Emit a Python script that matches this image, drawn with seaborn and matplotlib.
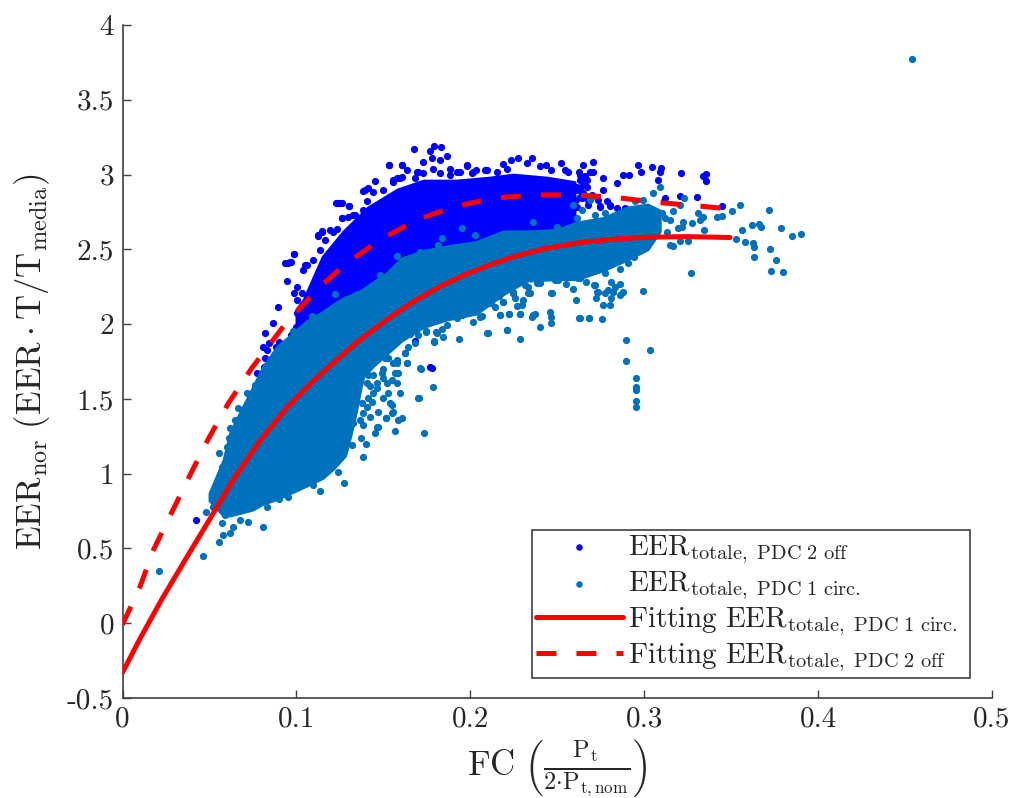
import matplotlib
matplotlib.use('Agg')
import matplotlib.pyplot as plt
import numpy as np
import pandas as pd
import seaborn as sns

## values: (FC, EER_nor)
blue_points=[(.1676,3.17),(.1793,3.19),(.183,3.183),(.1768,3.16),(.173,3.087),(.1778,3.11),(.1864,3.125),(.1826,3.098),
(.1532,3.065),(.1605,3.065),(.1634,3.03),(.1701,3.02),(.1452,2.96),(.1557,2.964),(.1596,2.975),(.1394,2.897),
(.1251,2.813),(.1304,2.79),(.1225,2.81),(.1126,2.597),(.1145,2.619),(.1212,2.619),(.126,2.708),(.1327,2.73),
(.1385,2.764),(.1404,2.82),(.0986,2.469),(.0953,2.41),(.0969,2.418),(.0944,2.289),(.105,2.396),(.104,2.362),
(.1001,2.251),(.0986,2.206),(.103,2.211),(.1001,2.162),(.0896,2.117),(.1001,2.077),(.0863,2.01),(.0998,1.983),
(.082,1.939),(.0842,1.876),(.081,1.849),(.0833,1.827),(.09,1.879),(.082,1.771),(.1979,3.065),(.2085,3.03),
(.1922,3.02),(.2017,3.02),(.1883,3.036),(.2273,3.109),(.2353,3.109),(.2232,3.094),(.219,3.069),(.2324,3.08),
(.2434,3.065),(.2401,3.054),(.2522,3.076),(.265,3.065),(.2708,3.087),(.2708,3.02),(.2689,3.014),(.2564,3.02),
(.2627,3.014),(.267,2.964),(.2761,2.976),(.2846,2.942),(.288,2.994),(.2913,2.994),(.2967,3.065),(.298,3.016),
(.3047,3.049),(.3097,3.047),(.3091,3.014),(.3078,2.964),(.3212,3.009),(.3356,3.005),(.334,2.987),(.3354,2.96),
(.3306,2.853),(.3206,2.857),(.312,2.842),(.3114,2.82),(.2761,2.898),(.2698,2.864),(.265,2.875),(.264,2.842),
(.2679,2.831),(.2746,2.786),(.2804,2.797),(.2842,2.775),(.289,2.77),(.2737,2.83),(.2785,2.82),(.2631,2.964),
(.2612,2.92),(.267,2.92),(.2574,2.786),(.2516,2.764),(.2459,2.742),(.3446,2.79),(.0423,.691),(.0772,1.676),
(.0816,1.712),(.177,1.71),(.0935,2.411),(.0964,2.418),(.0987,2.469),(.106,2.396),(.1098,2.429),(.1136,2.496),
(.1126,2.592),(.1146,2.625),(.1194,2.63),(.1232,2.634),(.1165,2.563),(.1261,2.708),(.1299,2.715),(.1337,2.73),
(.1241,2.813),(.1261,2.808),(.1305,2.79),(.1385,2.893),(.141,2.909),(.1443,2.886),(.15,2.897),(.1558,2.953),
(.1577,2.976),(.1606,2.982),(.1535,3.065),(.1606,3.065),(.1692,3.02),(.1682,2.976),(.173,3.009),(.1784,3.036),
(.1826,3.009),(.1884,2.998),(.1941,3.02),(.198,3.058),(.2008,3.009),(.2095,3.031),(.2152,3.02),(.1021,2.1),
(.1021,2.0),(.097,1.93),(.092,1.87),(.088,1.85),(.265,2.865),(.2692,2.853),(.2679,2.798),(.2746,2.787),
(.2804,2.787),(.289,2.775),(.165,1.935),(.1682,1.884),(.1778,1.705),(.263,3.0),(.266,2.99),(.262,2.9),(.258,2.85),
(.2631,2.9),(.2612,2.78),(.2631,2.85),(.265,2.93),(.2608,2.83),(.2464,3.03),(.2542,3.03),(.2212,3.04),(.2033,3.03)]

teal_points=[(.3553,2.797),(.3718,2.762),(.3503,2.753),(.3446,2.726),(.3417,2.719),(.3618,2.663),(.3662,2.67),(.3672,2.652),
(.3565,2.626),(.3787,2.641),(.3848,2.592),(.3902,2.603),(.3526,2.57),(.358,2.552),(.3624,2.541),(.3634,2.514),
(.3724,2.501),(.3634,2.452),(.3758,2.429),(.3728,2.358),(.3797,2.347),(.3269,2.34),(.2995,2.224),(.2894,1.894),
(.3034,1.827),(.2896,1.756),(.2953,1.638),(.2953,1.582),(.2953,1.56),(.2953,1.486),(.2953,1.444),(.2756,2.032),
(.2683,2.043),(.2627,2.043),(.2464,2.01),(.2459,2.084),(.2462,2.05),(.2401,1.983),(.2372,2.066),(.2353,2.05),
(.2286,1.899),(.2286,2.068),(.2225,2.066),(.2213,1.961),(.2104,1.939),(.2171,2.061),(.2142,2.117),(.219,2.15),
(.2296,2.128),(.2248,2.206),(.2334,2.206),(.2315,2.262),(.2464,2.211),(.2551,2.266),(.2593,2.233),(.2608,2.162),
(.2666,2.284),(.2717,2.262),(.2727,2.217),(.2721,2.173),(.2765,2.128),(.2804,2.128),(.2807,2.173),(.2775,2.206),
(.2809,2.284),(.2861,2.266),(.288,2.217),(.2861,2.195),(.2794,2.229),(.2823,2.217),(.2942,2.452),(.2905,2.407),
(.288,2.474),(.2861,2.367),(.2775,2.34),(.2731,2.362),(.2804,2.407),(.2785,2.474),(.2622,2.307),(.2554,2.362),
(.2487,2.295),(.242,2.34),(.2382,2.273),(.2344,2.318),(.2257,2.295),(.2689,2.429),(.2631,2.385),(.2832,2.518),
(.2963,2.547),(.3149,2.53),(.3164,2.523),(.3206,2.556),(.3254,2.556),(.3129,2.619),(.3197,2.641),(.3225,2.686),
(.3273,2.675),(.3312,2.741),(.334,2.715),(.3344,2.63),(.3321,2.697),(.3216,2.652),(.3149,2.697),(.3168,2.753),
(.3206,2.797),(.323,2.842),(.312,2.708),(.31,2.742),(.3053,2.875),(.3091,2.915),(.2995,2.831),(.2689,2.831),
(.264,2.764),(.2593,2.797),(.2612,2.708),(.2497,2.652),(.2363,2.686),(.2775,2.742),(.2717,2.73),(.288,2.741),
(.2947,2.82),(.195,2.641),(.1835,2.574),(.1816,2.53),(.2027,2.597),(.1711,2.485),(.1577,2.456),(.1481,2.329),
(.1222,2.202),(.1088,2.055),(.0982,1.957),(.1979,2.073),(.2056,2.05),(.2017,2.017),(.1922,2.039),(.1864,1.994),
(.1807,1.939),(.1745,1.95),(.1845,1.916),(.1937,1.899),(.1793,1.883),(.1682,1.872),(.1653,1.934),(.1625,1.805),
(.1577,1.76),(.1634,1.738),(.151,1.771),(.1711,1.705),(.2094,1.939),(.2104,2.184),(.1635,1.739),(.1702,1.505),
(.1596,1.538),(.1577,1.605),(.15,1.505),(.1548,1.46),(.1472,1.415),(.1548,1.404),(.1516,1.375),(.1606,1.371),
(.1587,1.36),(.1568,1.288),(.1453,1.275),(.1466,1.315),(.1401,1.197),(.1385,1.11),(.137,1.237),(.1318,1.192),
(.128,1.17),(.1242,1.014),(.1274,.936),(.1136,.885),(.1098,.925),(.0954,.842),(.0902,.829),(.083,.78),
(.081,.641),(.0724,.679),(.0676,.691),(.0638,.646),(.0619,.601),(.058,.59),(.0557,.541),(.0571,.668),
(.059,.724),(.048,.746),(.0523,.78),(.0465,.452),(.0212,.349),(.0555,1.141),(.0599,1.177),(.0571,1.043),
(.0565,.98),(.0532,.902),(.0513,.858),(.0619,1.304),(.0615,1.237),(.0647,1.36),(.0667,1.438),(.0715,1.538),
(.0762,1.594),(.1734,1.27),(.454,3.774),(.1745,1.951),(.1803,1.944),(.1839,1.966),(.1791,1.884),(.2213,1.962),
(.2171,2.062),(.2224,2.066),(.2286,2.069),(.2065,2.051),(.219,2.151),(.2247,2.207),(.2113,2.14),(.1624,1.81),
(.1576,1.743),(.1714,1.699),(.1783,1.578),(.1703,1.505),(.1433,1.482),(.1404,1.449),(.1538,1.471),(.1553,1.409),
(.1515,1.371),(.1467,1.315),(.1385,1.326),(.1519,1.605),(.1461,1.605),(.1423,1.583),(.1548,1.627),(.149,1.672),
(.1567,1.672),(.2248,2.218),(.2334,2.251),(.2344,2.207),(.2305,2.162),(.2267,2.118),(.2257,2.173),(.2468,2.211),
(.2714,2.262),(.2737,2.218),(.2832,2.251),(.2506,2.296),(.2631,2.307),(.2401,2.274),(.245,2.318),(.2363,2.062),
(.2631,2.044),(.2685,2.044),(.15,1.7),(.141,1.66),(.164,1.85),(.17,1.93),(.195,2.06),(.212,2.14),(.2165,2.19),
(.1442,1.66),(.1404,1.605),(.1586,1.672),(.1528,1.538),(.1442,1.538),(.1413,1.505),(.1375,1.471),(.1385,1.404),
(.1423,1.382),(.1366,1.36),(.1327,1.337),(.1461,1.571),(.15,1.638),(.1557,1.739),(.1528,1.772)]

## solid middle of the two clouds, too dense to read dot by dot: outline as (FC, low, high)
blue_core=[(.1,1.95,2.1),(.104,2.0,2.16),(.115,2.07,2.45),(.127,2.15,2.62),(.141,2.24,2.78),(.158,2.4,2.9),(.173,2.45,2.96),
(.192,2.5,2.96),(.211,2.54,2.98),(.2246,2.58,3.0),(.244,2.6,2.98),(.26,2.66,2.95)]
teal_core=[(.05,.82,.87),(.058,.72,1.09),(.062,.72,1.28),(.075,.76,1.58),(.081,.8,1.72),(.089,.83,1.85),(.106,.92,2.02),
(.115,.97,2.08),(.121,1.03,2.13),(.128,1.12,2.18),(.131,1.25,2.19),(.134,1.4,2.21),(.1365,1.55,2.22),(.1385,1.65,2.235),
(.1442,1.72,2.28),(.1519,1.8,2.34),(.1605,1.89,2.44),(.173,1.98,2.49),(.1864,2.03,2.52),(.2036,2.07,2.55),(.219,2.2,2.62),
(.2324,2.29,2.62),(.2497,2.3,2.63),(.2612,2.3,2.68),(.2765,2.36,2.71),(.29,2.43,2.78),(.302,2.5,2.8),(.309,2.62,2.76)]

fit_circ_x=[0,.01,.0226,.0369,.0504,.0638,.0791,.0945,.1098,.1193,.1355,.1519,.167,.1826,.197,.2113,.2248,.244,.2631,.2823,.3015,.3245,.3494]
fit_circ_y=[-.33,-.105,.16,.44,.7,.96,1.22,1.44,1.62,1.72,1.885,2.028,2.148,2.251,2.33,2.396,2.45,2.507,2.545,2.568,2.581,2.585,2.579]
fit_off_x=[0,.0101,.0178,.0283,.0389,.0494,.0609,.0743,.0954,.104,.1116,.1289,.1481,.1692,.1912,.2133,.2372,.2612,.2842,.3082,.3312,.3494]
fit_off_y=[-.01,.245,.49,.74,.992,1.233,1.471,1.705,2.028,2.128,2.229,2.407,2.563,2.697,2.786,2.842,2.864,2.864,2.846,2.813,2.79,2.77]

x_ticks=[0,.1,.2,.3,.4,.5]
x_tick_labels=['0','0.1','0.2','0.3','0.4','0.5']
y_ticks=[-.5,0,.5,1,1.5,2,2.5,3,3.5,4]
y_tick_labels=['-0.5','0','0.5','1','1.5','2','2.5','3','3.5','4']

BLUE='#0000FF'
TEAL='#0072BD'
RED='#FF0000'
AXIS='#404040'

sns.set_theme(style='white')
plt.rcParams['font.family']=['cmr10','DejaVu Serif']
plt.rcParams['mathtext.fontset']='cm'
plt.rcParams['axes.unicode_minus']=False
plt.rcParams['axes.formatter.use_mathtext']=True

fig,ax=plt.subplots(figsize=(10.13,7.98),dpi=100)
fig.subplots_adjust(left=122.5/1013,right=992/1013,top=1-25/798,bottom=1-698/798)

blue=pd.DataFrame(blue_points,columns=['fc','eer'])
teal=pd.DataFrame(teal_points,columns=['fc','eer'])
bc=pd.DataFrame(blue_core,columns=['fc','low','high'])
tc=pd.DataFrame(teal_core,columns=['fc','low','high'])

sns.scatterplot(data=blue,x='fc',y='eer',color=BLUE,s=27,linewidth=0,ax=ax,zorder=2,
                label=r'$\mathrm{EER}_{\mathrm{totale,\ PDC\ 2\ off}}$')
ax.fill_between(bc.fc,bc.low,bc.high,color=BLUE,linewidth=2,zorder=2)
sns.scatterplot(data=teal,x='fc',y='eer',color=TEAL,s=27,linewidth=0,ax=ax,zorder=3,
                label=r'$\mathrm{EER}_{\mathrm{totale,\ PDC\ 1\ circ.}}$')
ax.fill_between(tc.fc,tc.low,tc.high,color=TEAL,linewidth=2,zorder=3)
sns.lineplot(x=fit_circ_x,y=fit_circ_y,color=RED,linewidth=3.6,sort=False,ax=ax,zorder=4,
             label=r'$\mathrm{Fitting\ EER}_{\mathrm{totale,\ PDC\ 1\ circ.}}$')
sns.lineplot(x=fit_off_x,y=fit_off_y,color=RED,linewidth=3.6,sort=False,ax=ax,zorder=4,
             linestyle=(0,(4,4)),label=r'$\mathrm{Fitting\ EER}_{\mathrm{totale,\ PDC\ 2\ off}}$')

ax.set_xlim(0,.5)
ax.set_ylim(-.5,4)
ax.set_xticks(x_ticks,x_tick_labels)
ax.set_yticks(y_ticks,y_tick_labels)
ax.tick_params(direction='in',length=6,width=1,color=AXIS,labelcolor='#262626',labelsize=21,pad=6,left=True,bottom=True)
sns.despine(ax=ax)
for s in ['left','bottom']:
    ax.spines[s].set_color(AXIS)
    ax.spines[s].set_linewidth(1.2)

ax.set_xlabel(r'$\mathrm{FC}\ \left(\frac{\mathrm{P_t}}{2{\cdot}\mathrm{P_{t,nom}}}\right)$',fontsize=25,color='#262626',labelpad=4)
ax.set_ylabel(r'$\mathrm{EER_{nor}}\ (\mathrm{EER}\cdot\mathrm{T/T_{media}})$',fontsize=25,color='#262626',labelpad=11)

leg=ax.legend(loc='lower left',bbox_to_anchor=((532-122.5)/869.5,(698-678)/673,(970-532)/869.5,(678-529)/673),
              mode='expand',fontsize=21,frameon=True,fancybox=False,framealpha=1,edgecolor=AXIS,borderpad=.12,
              labelspacing=.12,handlelength=3.0,handletextpad=.18,borderaxespad=0,markerscale=.9)
leg.get_frame().set_linewidth(1.2)

fig.savefig('out.png',dpi=100)
